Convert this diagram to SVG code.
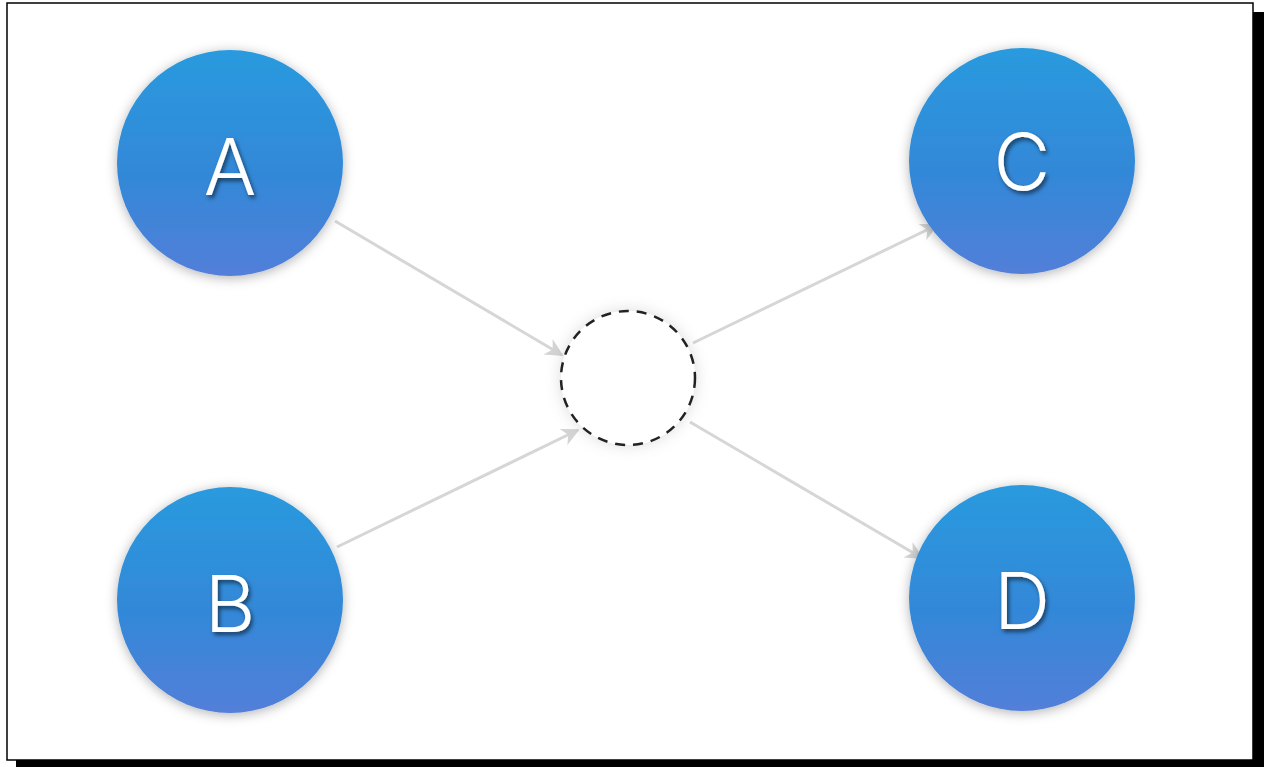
<svg xmlns="http://www.w3.org/2000/svg" width="1264" height="767" viewBox="0 0 1264 767">
<defs>
<linearGradient id="g" x1="0" y1="0" x2="0" y2="1">
<stop offset="0" stop-color="#2a9ade"/>
<stop offset="0.55" stop-color="#3288d8"/>
<stop offset="1" stop-color="#537fd8"/>
</linearGradient>
<filter id="sh" x="-20%" y="-20%" width="140%" height="140%">
<feDropShadow dx="0" dy="2" stdDeviation="6" flood-color="#000" flood-opacity="0.3"/>
</filter>
<filter id="glow" x="-30%" y="-30%" width="160%" height="160%">
<feDropShadow dx="0" dy="0" stdDeviation="8" flood-color="#000" flood-opacity="0.15"/>
</filter>
<filter id="ts" x="-30%" y="-30%" width="160%" height="160%">
<feDropShadow dx="2" dy="3" stdDeviation="2" flood-color="#000" flood-opacity="0.55"/>
</filter>
<marker id="arr" viewBox="0 0 10 10" refX="9" refY="5" markerWidth="6" markerHeight="6" orient="auto" markerUnits="strokeWidth">
<path d="M0,0 L10,5 L0,10 L3,5 z" fill="#d4d4d4"/>
</marker>
</defs>
<style>
.node{fill:url(#g);filter:url(#sh)}
.lbl{font-family:"Inter","Liberation Sans",Arial,sans-serif;font-weight:300;font-size:78px;fill:#fff;text-anchor:middle;filter:url(#ts)}
.edge{stroke:#d6d6d6;stroke-width:3;fill:none;marker-end:url(#arr)}
</style>
<rect x="16" y="12" width="1248" height="755" fill="#000"/>
<rect x="7" y="3" width="1246" height="757" fill="#fff" stroke="#000" stroke-width="1.5"/>
<g id="connectors">
<line class="edge" x1="335" y1="221" x2="562" y2="355"/>
<line class="edge" x1="337" y1="547" x2="578" y2="430"/>
<line class="edge" x1="693" y1="343" x2="937" y2="225"/>
<line class="edge" x1="690" y1="422" x2="922" y2="558"/>
</g>
<g id="hub">
<circle cx="628" cy="378" r="67" fill="#fff" filter="url(#glow)"/>
<circle cx="628" cy="378" r="67" fill="none" stroke="#222" stroke-width="2.5" stroke-dasharray="10 8"/>
</g>
<g id="nodeA">
<circle class="node" cx="230" cy="163" r="113"/>
<text class="lbl" x="230" y="195">A</text>
</g>
<g id="nodeB">
<circle class="node" cx="230" cy="600" r="113"/>
<text class="lbl" x="230" y="632">B</text>
</g>
<g id="nodeC">
<circle class="node" cx="1022" cy="161" r="113"/>
<text class="lbl" x="1022" y="190">C</text>
</g>
<g id="nodeD">
<circle class="node" cx="1022" cy="598" r="113"/>
<text class="lbl" x="1022" y="629">D</text>
</g>
</svg>
